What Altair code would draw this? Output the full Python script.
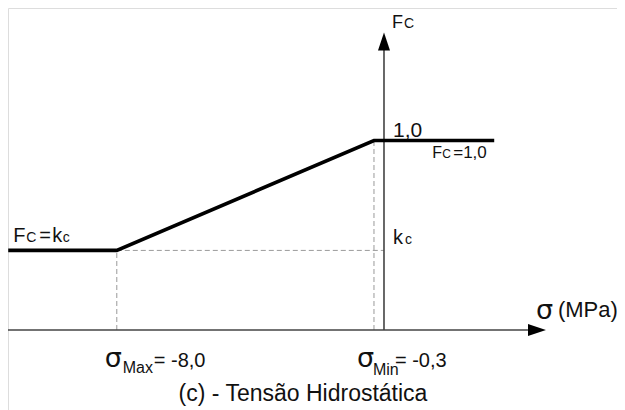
import altair as alt
import pandas as pd

# --- data (schematic values) ---
sigma_line = [-11.25, -8.0, -0.3, 3.3]    # sigma (MPa) along the Fc curve
fc_line = [0.42, 0.42, 1.0, 1.0]          # Fc values
sigma_max = -8.0
sigma_min = -0.3
kc = 0.42
fc_one = 1.0
x_axis_span = [-11.26, 4.31]
y_axis_span = [0.0, 1.478]
x_arrow = 4.58
y_arrow = 1.522

FONT = "Liberation Sans"
W, H = 609, 402

xs = alt.Scale(domain=[-11.257, 6.976], nice=False, zero=False)
ys = alt.Scale(domain=[-0.4221, 1.6992], nice=False, zero=False)

def X(f="x"):
    return alt.X(f"{f}:Q", scale=xs, axis=None)

def Y(f="y"):
    return alt.Y(f"{f}:Q", scale=ys, axis=None)

dashed = pd.DataFrame({
    "x": [sigma_max, sigma_max, sigma_min],
    "x2": [sigma_max, 0.0, sigma_min],
    "y": [0.0, kc, 0.0],
    "y2": [kc, kc, fc_one],
})
axes = pd.DataFrame({
    "x": [x_axis_span[0], 0.0],
    "x2": [x_axis_span[1], 0.0],
    "y": [0.0, y_axis_span[0]],
    "y2": [0.0, y_axis_span[1]],
})
curve = pd.DataFrame({"x": sigma_line, "y": fc_line, "o": list(range(len(sigma_line)))})

dash_layer = alt.Chart(dashed).mark_rule(color="#9a9a9a", strokeWidth=1, strokeDash=[5, 3]).encode(
    x=X(), x2="x2:Q", y=Y(), y2="y2:Q")
axes_layer = alt.Chart(axes).mark_rule(color="#444444", strokeWidth=1.6).encode(
    x=X(), x2="x2:Q", y=Y(), y2="y2:Q")
curve_layer = alt.Chart(curve).mark_line(color="#000000", strokeWidth=3.6, strokeJoin="miter").encode(
    x=X(), y=Y(), order="o:O")

arrow_r = alt.Chart(pd.DataFrame({"x": [x_arrow], "y": [0.0]})).mark_point(
    shape="M -1 -0.667 L 1 0 L -1 0.667 Z", size=324, filled=True, color="#000", opacity=1).encode(x=X(), y=Y())
arrow_u = alt.Chart(pd.DataFrame({"x": [0.0], "y": [y_arrow]})).mark_point(
    shape="M -0.667 1 L 0 -1 L 0.667 1 Z", size=324, filled=True, color="#000", opacity=1).encode(x=X(), y=Y())

def label(text, x, y, dx, dy, size, font=FONT):
    return alt.Chart(pd.DataFrame({"x": [x], "y": [y], "t": [text]})).mark_text(
        align="left", baseline="alphabetic", dx=dx, dy=dy, fontSize=size, font=font, color="#111111"
    ).encode(x=X(), y=Y(), text="t:N")

SIG = "DejaVu Sans"
labels = [
    # Fc = kc (left)
    label("F", sigma_line[0], kc, 5, -8, 20),
    label("C", sigma_line[0], kc, 18, -8, 14),
    label("=", sigma_line[0], kc, 31, -8, 20),
    label("k", sigma_line[0], kc, 44, -8, 20),
    label("c", sigma_line[0], kc, 54.5, -8, 14),
    # 1,0 on the axis
    label("1,0", 0.0, fc_one, 9, -4, 21),
    # Fc = 1,0 (right)
    label("F", sigma_line[-1], fc_one, -62, 17, 16),
    label("C", sigma_line[-1], fc_one, -52, 17, 12),
    label("=1,0", sigma_line[-1], fc_one, -41, 17, 17),
    # kc on the axis
    label("k", 0.0, kc, 9, -6, 20),
    label("c", 0.0, kc, 21, -6, 14),
    # Fc axis title
    label("F", 0.0, y_axis_span[1], 8, -22, 18),
    label("C", 0.0, y_axis_span[1], 20, -22, 14),
    # sigma (MPa)
    label("σ", x_axis_span[1], 0.0, 8, -11, 27, SIG),
    label("(MPa)", x_axis_span[1], 0.0, 30, -13, 22),
    # sigma max
    label("σ", sigma_max, 0.0, -12, 37, 27, SIG),
    label("Max", sigma_max, 0.0, 6, 43, 16),
    label("= -8,0", sigma_max, 0.0, 37, 37, 20),
    # sigma min
    label("σ", sigma_min, 0.0, -17, 37, 27, SIG),
    label("Min", sigma_min, 0.0, -1, 45, 16),
    label("= -0,3", sigma_min, 0.0, 21, 37, 20),
]

caption = alt.Chart(pd.DataFrame({"t": ["(c) - Tensão Hidrostática"]})).mark_text(
    align="center", baseline="alphabetic", fontSize=23, font=FONT, color="#111111"
).encode(x=alt.value(295), y=alt.value(393), text="t:N")

chart = alt.layer(dash_layer, axes_layer, curve_layer, arrow_r, arrow_u, *labels, caption).properties(
    width=W, height=H, padding=0, autosize=alt.AutoSizeParams(type="none")
).configure_view(stroke=None).configure(background="white")

chart.save("out.html", embed_options={"renderer": "svg", "actions": False})
